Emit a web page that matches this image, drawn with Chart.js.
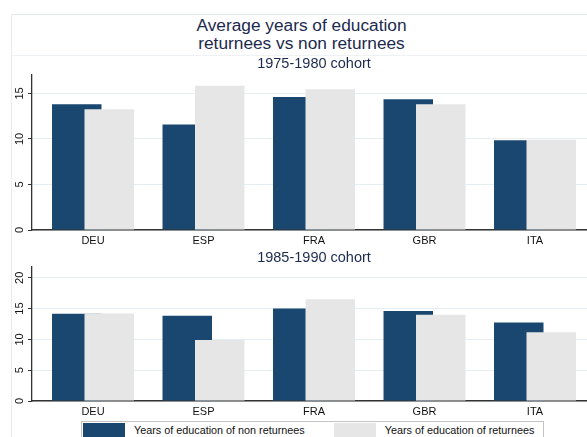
<!DOCTYPE html>
<html>
<head>
<meta charset="utf-8">
<script src="https://cdn.jsdelivr.net/npm/chart.js@4.4.1/dist/chart.umd.min.js"></script>
<style>
  html, body { margin: 0; padding: 0; background: #fff; }
  body { width: 587px; height: 437px; overflow: hidden; position: relative; font-family: "Liberation Sans", Arial, sans-serif; }
  #frame { position: absolute; left: 11px; top: 14px; width: 620px; height: 460px; border-left: 1px solid #e6edf1; border-top: 1px solid #e1e9ef; }
  #titleRule { position: absolute; left: 11px; top: 55px; width: 620px; border-top: 1px solid #eef2f4; }
  #mainTitle { position: absolute; left: 0; top: 17px; width: 603px; text-align: center; font-size: 17.3px; line-height: 17.8px; color: #1c2a4e; }
  canvas { position: absolute; left: 0; }
  #topChart { top: 48px; }
  #bottomChart { top: 248px; }
  #legend { position: absolute; left: 81px; top: 421px; height: 24px; padding: 0 9px 0 1px; border: 1px solid #c4c4c4;
            display: flex; align-items: flex-start; white-space: nowrap; font-size: 10.8px; color: #111; }
  #legend .key { flex: none; width: 42px; height: 20px; margin-top: 1px; }
  #legend .txt { margin-left: 9px; margin-right: 29px; line-height: 16px; }
  #legend .txt:last-child { margin-right: 0; }
</style>
</head>
<body>
<div id="frame"></div>
<div id="titleRule"></div>
<div id="mainTitle">Average years of education<br>returnees vs non returnees</div>
<canvas id="topChart" width="600" height="200"></canvas>
<canvas id="bottomChart" width="600" height="171"></canvas>
<div id="legend"></div>

<script>
// データ
const countries = ['DEU', 'ESP', 'FRA', 'GBR', 'ITA'];
const seriesLabels = ['Years of education of non returnees', 'Years of education of returnees'];

const nonReturnees7580 = [13.8, 11.6, 14.6, 14.35, 9.85];
const returnees7580 = [13.25, 15.85, 15.45, 13.8, 9.9];
const nonReturnees8590 = [14.15, 13.85, 15.0, 14.6, 12.75];
const returnees8590 = [14.2, 9.9, 16.5, 14.0, 11.15];

const yTicks7580 = [0, 5, 10, 15];
const yTicks8590 = [0, 5, 10, 15, 20];
const yMax7580 = 17.1;
const yMax8590 = 21.8;

const FONT = '"Liberation Sans", Arial, sans-serif';
const NAVY = '#1a476f';
const LIGHT = '#e6e6e6';
const AXIS = '#333333';

/**
 * 薄いバーを手前に描く（データセット0から順に描画）
 */
const drawInOrder = {
    id: 'drawInOrder',
    beforeDatasetsDraw(chart) {
        chart.getSortedVisibleDatasetMetas().forEach(meta => chart._drawDataset(meta));
        return false;
    }
};

/**
 * 凡例をHTMLで作る
 */
const htmlLegend = {
    id: 'htmlLegend',
    afterUpdate(chart) {
        const box = document.getElementById('legend');
        box.innerHTML = '';
        const items = chart.options.plugins.legend.labels.generateLabels(chart);
        items.forEach(item => {
            const key = document.createElement('span');
            key.className = 'key';
            key.style.background = item.fillStyle;
            const text = document.createElement('span');
            text.className = 'txt';
            text.textContent = item.text;
            box.append(key, text);
        });
    }
};

function makePanel(id, title, titlePadding, dark, light, yTicks, yMax, extraPlugins) {
    const ctx = document.getElementById(id).getContext('2d');
    return new Chart(ctx, {
        type: 'bar',
        data: {
            datasets: [
                {
                    label: seriesLabels[0],
                    data: dark.map((v, i) => ({ x: i, y: v })),
                    backgroundColor: NAVY,
                    borderWidth: 0
                },
                {
                    label: seriesLabels[1],
                    data: light.map((v, i) => ({ x: i, y: v })),
                    backgroundColor: LIGHT,
                    borderWidth: 0
                }
            ]
        },
        options: {
            responsive: false,
            animation: false,
            categoryPercentage: 0.588,
            barPercentage: 1.523,
            layout: { padding: { left: 12, right: 4, top: 0, bottom: 0 } },
            plugins: {
                legend: { display: false },
                tooltip: { enabled: false },
                title: {
                    display: true,
                    text: title,
                    fullSize: false,
                    color: '#1c2a4e',
                    font: { family: FONT, size: 14.5, weight: 'normal' },
                    padding: titlePadding
                }
            },
            scales: {
                x: {
                    type: 'linear',
                    offset: false,
                    min: -0.552,
                    max: countries.length - 1 + 0.552,
                    grid: { display: false, drawTicks: false },
                    border: { color: AXIS, width: 1.5 },
                    afterBuildTicks: axis => { axis.ticks = countries.map((c, i) => ({ value: i })); },
                    afterFit: axis => { axis.height = 18; },
                    ticks: {
                        autoSkip: false,
                        maxRotation: 0,
                        padding: 4,
                        color: '#111',
                        font: { family: FONT, size: 11 },
                        callback: value => countries[value]
                    }
                },
                y: {
                    min: 0,
                    max: yMax,
                    afterBuildTicks: axis => { axis.ticks = yTicks.map(v => ({ value: v })); },
                    afterFit: axis => { axis.width = 20; },
                    grid: { color: '#e7eef1', lineWidth: 1, tickColor: AXIS, tickLength: 4 },
                    border: { color: AXIS, width: 1.3 },
                    ticks: {
                        minRotation: 90,
                        maxRotation: 90,
                        crossAlign: 'center',
                        padding: 2.4,
                        color: '#111',
                        font: { family: FONT, size: 11 }
                    }
                }
            }
        },
        plugins: [drawInOrder, ...extraPlugins]
    });
}

makePanel('topChart', '1975-1980 cohort', { top: 7.6, bottom: 1.3 },
    nonReturnees7580, returnees7580, yTicks7580, yMax7580, []);
makePanel('bottomChart', '1985-1990 cohort', { top: 0.8, bottom: 0.5 },
    nonReturnees8590, returnees8590, yTicks8590, yMax8590, [htmlLegend]);
</script>
</body>
</html>
